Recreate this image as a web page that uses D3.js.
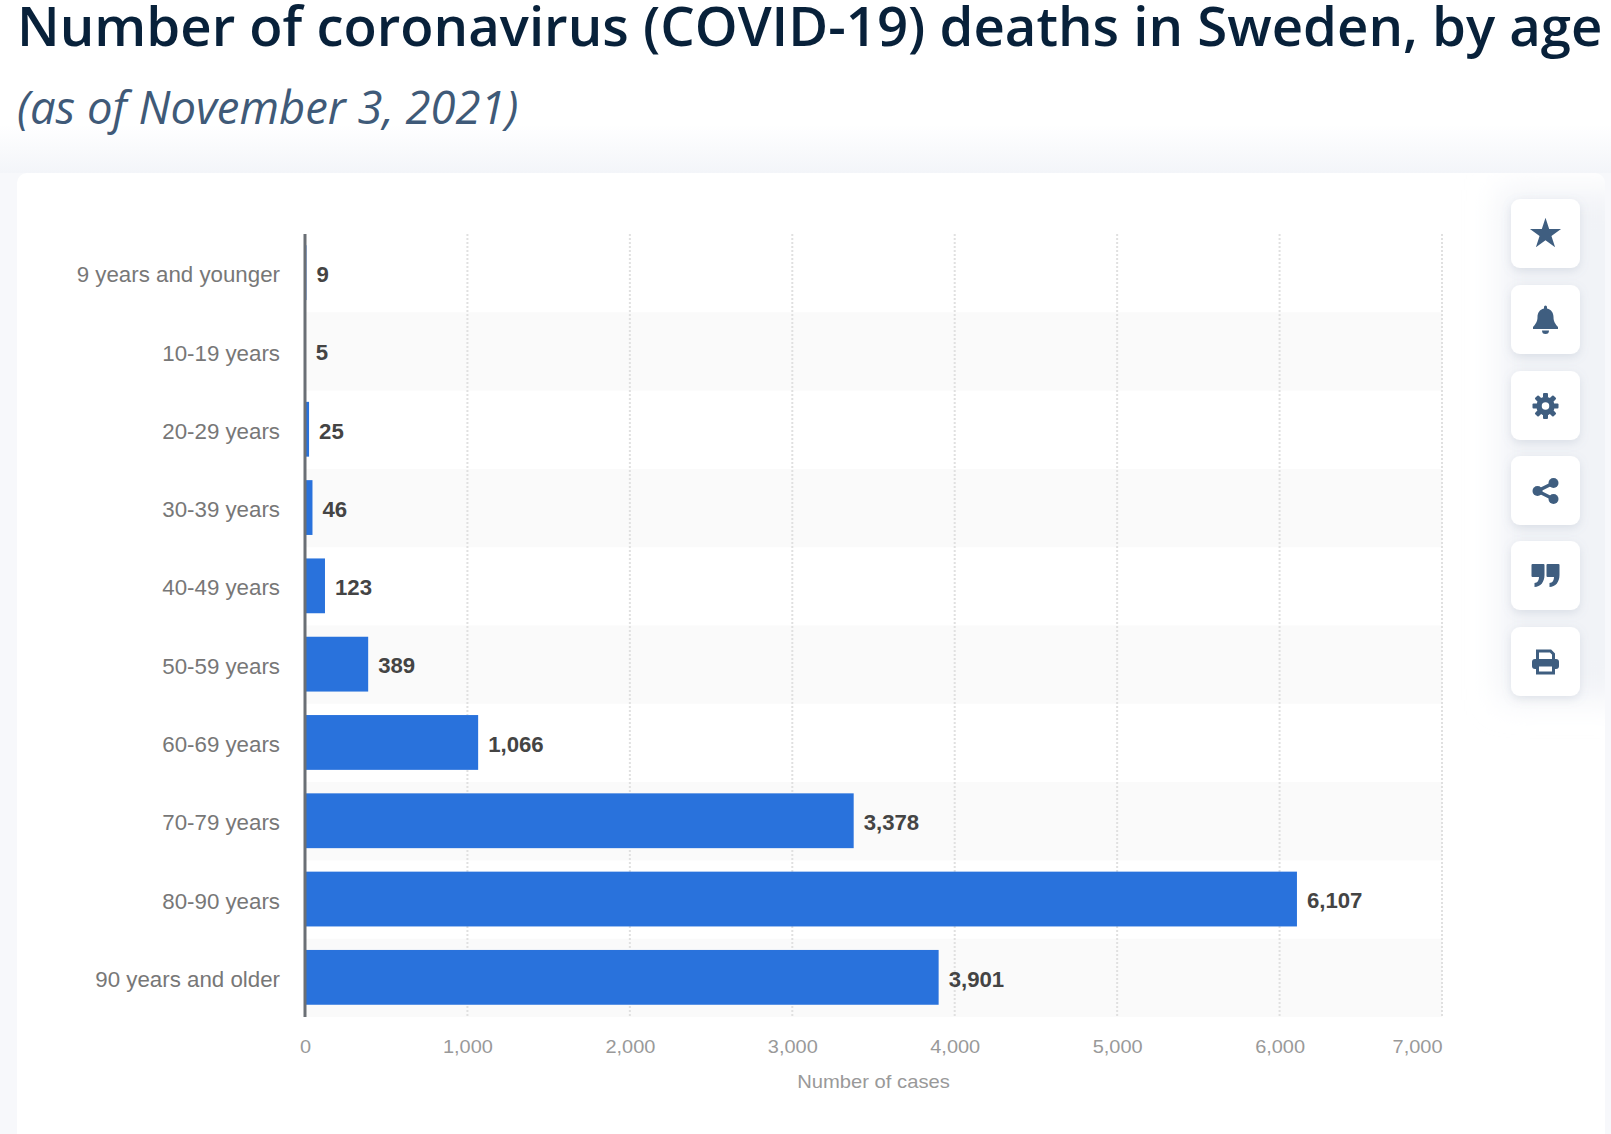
<!DOCTYPE html>
<html>
<head>
<meta charset="utf-8">
<script src="https://cdn.jsdelivr.net/npm/d3@7"></script>
<style>
html, body { margin: 0; padding: 0; background: #fff; overflow: hidden; }
svg { display: block; }
.title { font-family: "Open Sans"; font-weight: 600; font-size: 54.5px; fill: #08213a; }
.subtitle { font-family: "Open Sans"; font-style: italic; font-weight: 400; font-size: 45.4px; fill: #3f5a78; }
.cat text { font-family: "Liberation Sans"; font-size: 22.3px; fill: #777; }
.val text { font-family: "Liberation Sans"; font-size: 17.5px; fill: #999; }
.axis-title { font-family: "Liberation Sans"; font-size: 17.5px; fill: #999; }
.bar-label { font-family: "Liberation Sans"; font-weight: 700; font-size: 22.2px; fill: #444; }
</style>
</head>
<body>
<div id="chart"></div>
<script>
var categories = ["9 years and younger", "10-19 years", "20-29 years", "30-39 years", "40-49 years",
    "50-59 years", "60-69 years", "70-79 years", "80-90 years", "90 years and older"];
var deaths = [9, 5, 25, 46, 123, 389, 1066, 3378, 6107, 3901];
var xTicks = [0, 1000, 2000, 3000, 4000, 5000, 6000, 7000];
var titleText = "Number of coronavirus (COVID-19) deaths in Sweden, by age";
var subtitleText = "(as of November 3, 2021)";
var axisTitle = "Number of cases";

var width = 1611, height = 1134;
var plot = {left: 305, right: 1442, top: 234, bottom: 1017};

var svg = d3.select("#chart").append("svg").attr("width", width).attr("height", height);
var defs = svg.append("defs");

//page background fades in under the subtitle
var bg = defs.append("linearGradient").attr("id", "pageBg").attr("x1", 0).attr("x2", 0).attr("y1", 0).attr("y2", 1);
bg.append("stop").attr("offset", "0.72").attr("stop-color", "#ffffff");
bg.append("stop").attr("offset", "1").attr("stop-color", "#f3f5f9");
svg.append("rect").attr("width", width).attr("height", height).attr("fill", "#f7f8fb");
svg.append("rect").attr("width", width).attr("height", 173).attr("fill", "url(#pageBg)");

//white card
svg.append("rect").attr("x", 17).attr("y", 173).attr("width", 1588).attr("height", 1000)
    .attr("rx", 10).attr("fill", "#fff");

//soft shade behind the button column
var sideBlur = defs.append("filter").attr("id", "sideBlur")
    .attr("x", "-40%").attr("y", "-20%").attr("width", "180%").attr("height", "140%");
sideBlur.append("feGaussianBlur").attr("stdDeviation", 16);
svg.append("clipPath").attr("id", "cardClip").append("rect")
    .attr("x", 17).attr("y", 173).attr("width", 1588).attr("height", 1000).attr("rx", 10);
svg.append("g").attr("clip-path", "url(#cardClip)").append("rect")
    .attr("x", 1500).attr("y", 190).attr("width", 130).attr("height", 510)
    .attr("fill", "#f1f3f7").attr("filter", "url(#sideBlur)");

svg.append("text").attr("class", "title").attr("x", 17).attr("y", 46).text(titleText);
svg.append("text").attr("class", "subtitle").attr("x", 17).attr("y", 124).text(subtitleText);

var x = d3.scaleLinear().domain([0, 7000]).range([plot.left, plot.right]);
var y = d3.scaleBand().domain(categories).range([plot.top, plot.bottom]).paddingInner(0).paddingOuter(0);
var barHeight = y.bandwidth() * 0.7;

//striped rows
svg.selectAll(".stripe")
    .data(categories.filter(function (d, i) { return i % 2 === 1; }))
    .enter().append("rect")
    .attr("class", "stripe")
    .attr("x", plot.left)
    .attr("y", function (d) { return y(d); })
    .attr("width", x(7000) - plot.left)
    .attr("height", y.bandwidth())
    .attr("fill", "#fafafa");

//dashed grid
svg.selectAll(".grid")
    .data(xTicks.slice(1))
    .enter().append("line")
    .attr("class", "grid")
    .attr("x1", function (d) { return x(d); })
    .attr("x2", function (d) { return x(d); })
    .attr("y1", plot.top)
    .attr("y2", plot.bottom)
    .attr("stroke", "#e0e0e0")
    .attr("stroke-width", 2)
    .attr("stroke-dasharray", "2,2");

//bars
svg.selectAll(".bar")
    .data(deaths)
    .enter().append("rect")
    .attr("class", "bar")
    .attr("x", plot.left)
    .attr("y", function (d, i) { return y(categories[i]) + (y.bandwidth() - barHeight) / 2 - 0.5; })
    .attr("width", function (d) { return x(d) - plot.left; })
    .attr("height", barHeight)
    .attr("fill", "#2972dc");

svg.selectAll(".bar-label")
    .data(deaths)
    .enter().append("text")
    .attr("class", "bar-label")
    .attr("x", function (d) { return x(d) + 10; })
    .attr("y", function (d, i) { return y(categories[i]) + y.bandwidth() / 2 + 1; })
    .attr("dy", "0.35em")
    .text(function (d) { return d3.format(",")(d); });

//category axis
var catAxis = svg.append("g").attr("class", "cat")
    .attr("transform", "translate(" + plot.left + ",2)")
    .call(d3.axisLeft(y).tickSize(0).tickPadding(25));
catAxis.select(".domain").remove();

svg.append("line")
    .attr("x1", plot.left).attr("x2", plot.left)
    .attr("y1", plot.top).attr("y2", plot.bottom)
    .attr("stroke", "#6a6f75").attr("stroke-width", 3);

//value axis, labels are wide in the original so stretch them
var valAxis = svg.append("g").attr("class", "val")
    .attr("transform", "translate(0," + plot.bottom + ")")
    .call(d3.axisBottom(x).tickValues(xTicks).tickFormat(d3.format(",")).tickSize(0).tickPadding(24));
valAxis.select(".domain").remove();
valAxis.selectAll(".tick text")
    .attr("text-anchor", function (d) { return d === 7000 ? "end" : "middle"; })
    .attr("transform", "scale(1.14,1)");

svg.append("text").attr("class", "axis-title")
    .attr("transform", "translate(" + (plot.left + x(7000)) / 2 + ",1088) scale(1.155,1)")
    .attr("text-anchor", "middle")
    .text(axisTitle);

//side buttons
var iconColor = "#3f5e80";
var buttonTops = [199, 285, 371, 456, 541, 627];
var shadow = defs.append("filter").attr("id", "btnShadow")
    .attr("x", "-30%").attr("y", "-30%").attr("width", "160%").attr("height", "170%");
shadow.append("feDropShadow").attr("dx", 0).attr("dy", 3).attr("stdDeviation", 5)
    .attr("flood-color", "#7c8ba0").attr("flood-opacity", 0.2);

var icons = [
    function (g) { g.append("path").attr("d", d3.symbol().type(d3.symbolStar).size(300)).attr("fill", iconColor); },
    function (g) {
        g.append("path").attr("fill", iconColor)
            .attr("d", "M-1.5,-13 a1.5,1.5 0 0 1 3,0 v1.5 C6,-10.5 8,-7 8,-3 C8,2 10,4 12.5,7 V9 H-12.5 V7 C-10,4 -8,2 -8,-3 C-8,-7 -6,-10.5 -1.5,-11.5 Z M-3.5,10.5 h7 a3.5,3.5 0 0 1 -7,0 Z");
    },
    function (g) {
        g.append("circle").attr("r", 6.5).attr("fill", "none").attr("stroke", iconColor).attr("stroke-width", 5.5);
        d3.range(8).forEach(function (i) {
            g.append("rect").attr("x", -2.5).attr("y", -13).attr("width", 5).attr("height", 5).attr("rx", 1)
                .attr("fill", iconColor).attr("transform", "rotate(" + i * 45 + ")");
        });
    },
    function (g) {
        g.append("path").attr("d", "M8,-8 L-8,0 L8,8").attr("fill", "none").attr("stroke", iconColor).attr("stroke-width", 3.5);
        [[8, -8], [-8, 0], [8, 8]].forEach(function (p) {
            g.append("circle").attr("cx", p[0]).attr("cy", p[1]).attr("r", 5).attr("fill", iconColor);
        });
    },
    function (g) {
        [-14, 1].forEach(function (ox) {
            g.append("path").attr("fill", iconColor).attr("transform", "translate(" + ox + ",-12)")
                .attr("d", "M1,0 H12 a1,1 0 0 1 1,1 V11 C13,18 9,23 3,23 V19 C6,19 7.5,16 7.5,13 H1 a1,1 0 0 1 -1,-1 V1 a1,1 0 0 1 1,-1 Z");
        });
    },
    function (g) {
        g.append("path").attr("fill", "none").attr("stroke", iconColor).attr("stroke-width", 3)
            .attr("d", "M-8,-2 V-11 H5 L8,-8 V-2");
        g.append("rect").attr("x", -13.5).attr("y", -3).attr("width", 27).attr("height", 10).attr("rx", 3).attr("fill", iconColor);
        g.append("rect").attr("x", -8).attr("y", 3).attr("width", 16).attr("height", 8)
            .attr("fill", "#fff").attr("stroke", iconColor).attr("stroke-width", 3);
    }
];

var buttons = svg.selectAll(".btn")
    .data(buttonTops)
    .enter().append("g")
    .attr("class", "btn")
    .attr("transform", function (d) { return "translate(1511," + d + ")"; });
buttons.append("rect")
    .attr("width", 69).attr("height", 69).attr("rx", 9)
    .attr("fill", "#fff").attr("filter", "url(#btnShadow)");
buttons.each(function (d, i) {
    var g = d3.select(this).append("g").attr("transform", "translate(34.5,35)");
    icons[i](g);
});
</script>
</body>
</html>
